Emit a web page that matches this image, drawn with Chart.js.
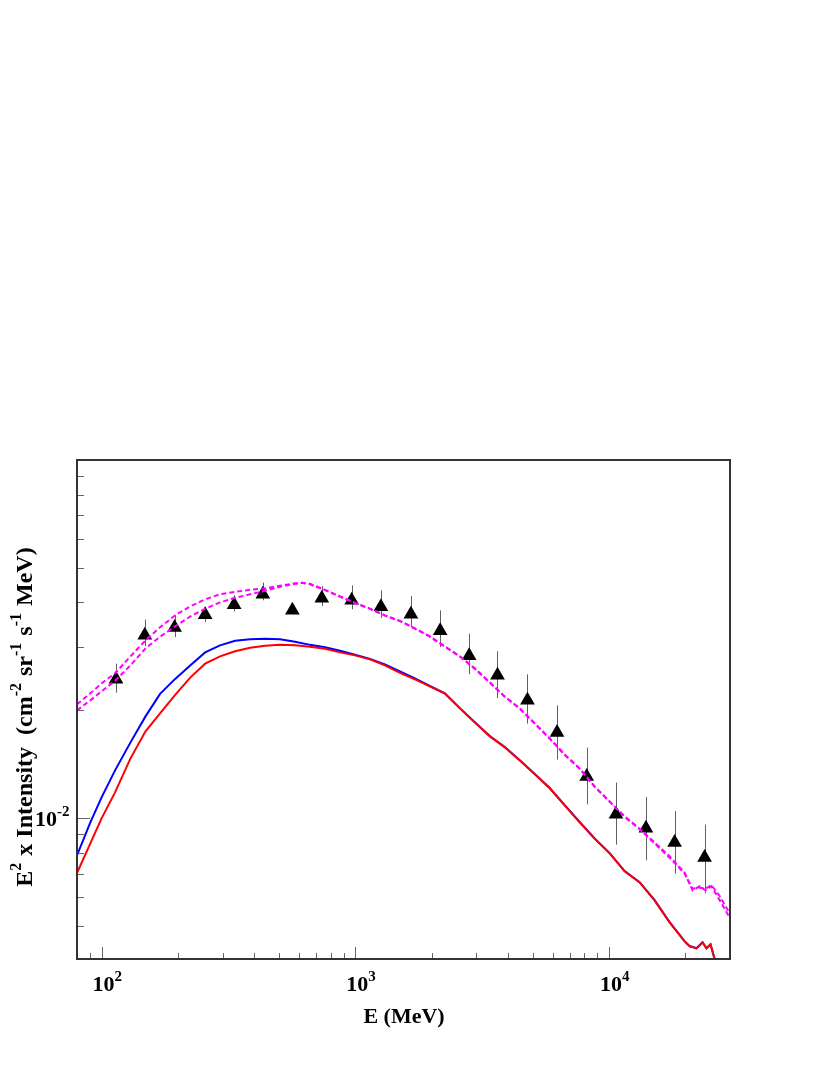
<!DOCTYPE html>
<html><head><meta charset="utf-8">
<script src="https://cdn.jsdelivr.net/npm/chart.js@4/dist/chart.umd.min.js"></script>
<style>html,body{margin:0;padding:0;background:#fff}canvas{display:block}</style>
</head><body>
<canvas id="c" width="830" height="1075"></canvas>
<script>
// ---- data points (triangles) ----
const pointE = [114, 148, 194, 256, 333, 432, 565, 738, 968, 1262, 1657, 2161, 2811, 3636, 4773, 6242, 8170, 10657, 13987, 18144, 23821];
const pointV = [0.02440, 0.03240, 0.03405, 0.03695, 0.03942, 0.04220, 0.03808, 0.04112, 0.04060, 0.03890, 0.03710, 0.03333, 0.02838, 0.02506, 0.02134, 0.01733, 0.01307, 0.01025, 0.00937, 0.00854, 0.00776];
const pointErrLo = [0.02240, 0.03022, 0.03202, 0.03527, 0.03779, 0.04056, 0.03779, 0.03910, 0.03828, 0.03620, 0.03415, 0.03003, 0.02520, 0.02164, 0.01835, 0.01456, 0.01092, 0.00843, 0.00762, 0.00699, 0.00616];
const pointErrHi = [0.02700, 0.03583, 0.03684, 0.03885, 0.04190, 0.04545, 0.03954, 0.04447, 0.04467, 0.04325, 0.04170, 0.03803, 0.03273, 0.02922, 0.02520, 0.02064, 0.01573, 0.01256, 0.01145, 0.01046, 0.00959];

// ---- model curves ----
const solidE = [80, 90.3, 100, 113, 130, 149, 170, 195, 224, 256, 293, 336, 385, 441, 505, 579, 663, 760, 871, 997, 1143, 1309, 1500, 1718, 1968, 2255, 2584, 2960, 3391, 3886, 4451, 5100, 5842, 6692, 7666, 8783, 10064, 11529, 13210, 15131, 17338, 19860, 20790, 22140, 23380, 24240, 25140, 26310, 27780];
const blueV = [0.007867, 0.009727, 0.011424, 0.01359, 0.01627, 0.01923, 0.02223, 0.02447, 0.02670, 0.02902, 0.03037, 0.03126, 0.03156, 0.03166, 0.03156, 0.03106, 0.03046, 0.02998, 0.02931, 0.02857, 0.02784, 0.02687, 0.02569, 0.02455, 0.02338, 0.02230, 0.02028, 0.01853, 0.01694, 0.01579, 0.01451, 0.01327, 0.01213, 0.01087, 0.00975, 0.00877, 0.00798, 0.00711, 0.00662, 0.00590, 0.00512, 0.00453, 0.00439, 0.00433, 0.00450, 0.00433, 0.00444, 0.00396, 0.00341];
const redV = [0.007022, 0.008498, 0.009981, 0.011797, 0.014679, 0.01747, 0.01961, 0.02209, 0.02471, 0.02699, 0.02829, 0.02922, 0.02988, 0.03027, 0.03046, 0.03037, 0.03008, 0.02969, 0.02902, 0.02847, 0.02775, 0.02670, 0.02544, 0.02440, 0.02333, 0.02226, 0.02025, 0.01850, 0.01691, 0.01576, 0.01449, 0.01325, 0.01211, 0.01085, 0.00973, 0.00876, 0.00797, 0.00710, 0.00661, 0.00589, 0.00511, 0.004525, 0.004382, 0.004326, 0.004496, 0.004326, 0.004438, 0.003953, 0.00341];
const dashE = [80, 90.3, 100, 113, 130, 149, 170, 195, 224, 256, 293, 336, 385, 441, 505, 579, 617, 663, 760, 871, 997, 1143, 1309, 1500, 1718, 1968, 2255, 2584, 2960, 3391, 3886, 4451, 5100, 5842, 6692, 7666, 8783, 10064, 11529, 13210, 15131, 17338, 19860, 21350, 22755, 24030, 25360, 27350, 30000];
const magentaAV = [0.02078, 0.02230, 0.02378, 0.02536, 0.02829, 0.03136, 0.03410, 0.03683, 0.03902, 0.04082, 0.04216, 0.04284, 0.04339, 0.04381, 0.04452, 0.04525, 0.04539, 0.04510, 0.04339, 0.04162, 0.03991, 0.03845, 0.03683, 0.03555, 0.03388, 0.03218, 0.03017, 0.02829, 0.02619, 0.02394, 0.02187, 0.02025, 0.01839, 0.01670, 0.01506, 0.01377, 0.01226, 0.01113, 0.01011, 0.00934, 0.00855, 0.00782, 0.00705, 0.00628, 0.00645, 0.00628, 0.00645, 0.00589, 0.00525];
const magentaBV = [0.01999, 0.02132, 0.02259, 0.02417, 0.02670, 0.02978, 0.03208, 0.03431, 0.03659, 0.03840, 0.04004, 0.04122, 0.04216, 0.04312, 0.04424, 0.04510, 0.04539, 0.04496, 0.04330, 0.04150, 0.03985, 0.03840, 0.03675, 0.03550, 0.03380, 0.03210, 0.03010, 0.02825, 0.02610, 0.02390, 0.02180, 0.02020, 0.01835, 0.01665, 0.01500, 0.01372, 0.01222, 0.01110, 0.01008, 0.00930, 0.00850, 0.00775, 0.00700, 0.00635, 0.00640, 0.00635, 0.00650, 0.00605, 0.00540];

// ---- axes ----
const xMin = 80, xMax = 30000, yMin = 0.00404, yMax = 0.1;
const xMajorTicks = [100, 1000, 10000];
const xMajorLabels = [['10', '2'], ['10', '3'], ['10', '4']];
const xMinorTicks = [90, 200, 300, 400, 500, 600, 700, 800, 900, 2000, 3000, 4000, 5000, 6000, 7000, 8000, 9000, 20000];
const yMajorTicks = [0.01];
const yMajorLabels = [['10', '-2']];
const yMinorTicks = [0.005, 0.006, 0.007, 0.008, 0.009, 0.02, 0.03, 0.04, 0.05, 0.06, 0.07, 0.08, 0.09];
const xTitle = 'E (MeV)';
const yTitleParts = [['E', 0], ['2', 1], [' x Intensity  (cm', 0], ['-2', 1], [' sr', 0], ['-1', 1], [' s', 0], ['-1', 1], [' MeV)', 0]];

const zip = (xs, ys) => xs.map((x, i) => ({x: x, y: ys[i]}));
const SERIF = '"Liberation Serif", "Times New Roman", serif';
const FONT = 'bold 22px ' + SERIF;
const FONT_SUP = 'bold 15px ' + SERIF;
const TFONT = 'bold 24px ' + SERIF;
const TFONT_SUP = 'bold 16px ' + SERIF;

function drawSegs(ctx, segs, x, y, big, small, rise) {
  let cx = x;
  for (const s of segs) {
    ctx.font = s[1] ? small : big;
    ctx.fillText(s[0], cx, y - (s[1] ? rise : 0));
    cx += ctx.measureText(s[0]).width + (s[1] ? 1 : 0);
  }
}
function segsWidth(ctx, segs, big, small) {
  let w = 0;
  for (const s of segs) { ctx.font = s[1] ? small : big; w += ctx.measureText(s[0]).width + (s[1] ? 1 : 0); }
  return w;
}

const errorBars = {
  id: 'errorBars',
  beforeDatasetsDraw(chart) {
    const ctx = chart.ctx, xs = chart.scales.x, ys = chart.scales.y;
    ctx.save();
    ctx.strokeStyle = '#606060';
    ctx.lineWidth = 1;
    pointE.forEach((e, i) => {
      const px = Math.round(xs.getPixelForValue(e)) + 0.5;
      ctx.beginPath();
      ctx.moveTo(px, ys.getPixelForValue(pointErrHi[i]));
      ctx.lineTo(px, ys.getPixelForValue(pointErrLo[i]));
      ctx.stroke();
    });
    ctx.restore();
  }
};

const frameAxes = {
  id: 'frameAxes',
  afterDraw(chart) {
    const ctx = chart.ctx, xs = chart.scales.x, ys = chart.scales.y, a = chart.chartArea;
    ctx.save();
    ctx.strokeStyle = '#666';
    ctx.lineWidth = 1;
    const xt = (v, len) => { const px = Math.round(xs.getPixelForValue(v)) + 0.5; ctx.beginPath(); ctx.moveTo(px, a.bottom); ctx.lineTo(px, a.bottom - len); ctx.stroke(); };
    const yt = (v, len) => { const py = Math.round(ys.getPixelForValue(v)) + 0.5; ctx.beginPath(); ctx.moveTo(a.left, py); ctx.lineTo(a.left + len, py); ctx.stroke(); };
    xMinorTicks.forEach(v => xt(v, 6));
    xMajorTicks.forEach(v => xt(v, 12));
    yMinorTicks.forEach(v => yt(v, 7));
    yMajorTicks.forEach(v => yt(v, 13));
    ctx.strokeStyle = '#333';
    ctx.lineWidth = 2;
    ctx.strokeRect(a.left, a.top, a.right - a.left, a.bottom - a.top);
    ctx.fillStyle = '#000';
    ctx.textBaseline = 'alphabetic';
    ctx.textAlign = 'left';
    xMajorTicks.forEach((v, i) => {
      const px = xs.getPixelForValue(v);
      drawSegs(ctx, [[xMajorLabels[i][0], 0], [xMajorLabels[i][1], 1]], px - 9, 991, FONT, FONT_SUP, 10);
    });
    yMajorTicks.forEach((v, i) => {
      const py = ys.getPixelForValue(v);
      ctx.font = FONT;
      const w10 = ctx.measureText(yMajorLabels[i][0]).width;
      drawSegs(ctx, [[yMajorLabels[i][0], 0], [yMajorLabels[i][1], 1]], 57 - w10, py + 8, FONT, FONT_SUP, 10);
    });
    ctx.font = FONT;
    ctx.textAlign = 'center';
    ctx.fillText(xTitle, 404, 1023);
    ctx.textAlign = 'left';
    const w = segsWidth(ctx, yTitleParts, TFONT, TFONT_SUP);
    ctx.translate(32, 717);
    ctx.rotate(-Math.PI / 2);
    drawSegs(ctx, yTitleParts, -w / 2, 0, TFONT, TFONT_SUP, 11);
    ctx.restore();
  }
};

const lineDs = (label, data, color, order, dash) => ({
  label: label, data: data, borderColor: color, backgroundColor: color, borderWidth: 2,
  pointRadius: 0, fill: false, tension: 0, order: order, borderDash: dash || [], showLine: true
});

new Chart(document.getElementById('c'), {
  type: 'line',
  data: {
    datasets: [
      lineDs('model A', zip(dashE, magentaAV), '#ff00ff', 0, [5, 3]),
      lineDs('model B', zip(dashE, magentaBV), '#ff00ff', 0, [5, 3]),
      lineDs('red', zip(solidE, redV), '#ff0000', 1),
      lineDs('blue', zip(solidE, blueV), '#0000ff', 2),
      {
        label: 'data', data: zip(pointE, pointV), showLine: false, pointStyle: 'triangle',
        pointRadius: 8.5, pointBackgroundColor: '#000', pointBorderColor: '#000', pointBorderWidth: 0, order: 5
      }
    ]
  },
  options: {
    responsive: false, animation: false, devicePixelRatio: 1, events: [],
    layout: {padding: {left: 77, right: 100, top: 460, bottom: 116}},
    plugins: {legend: {display: false}, tooltip: {enabled: false}, title: {display: false}},
    scales: {
      x: {type: 'logarithmic', min: xMin, max: xMax, display: false},
      y: {type: 'logarithmic', min: yMin, max: yMax, display: false}
    }
  },
  plugins: [errorBars, frameAxes]
});
</script>
</body></html>
